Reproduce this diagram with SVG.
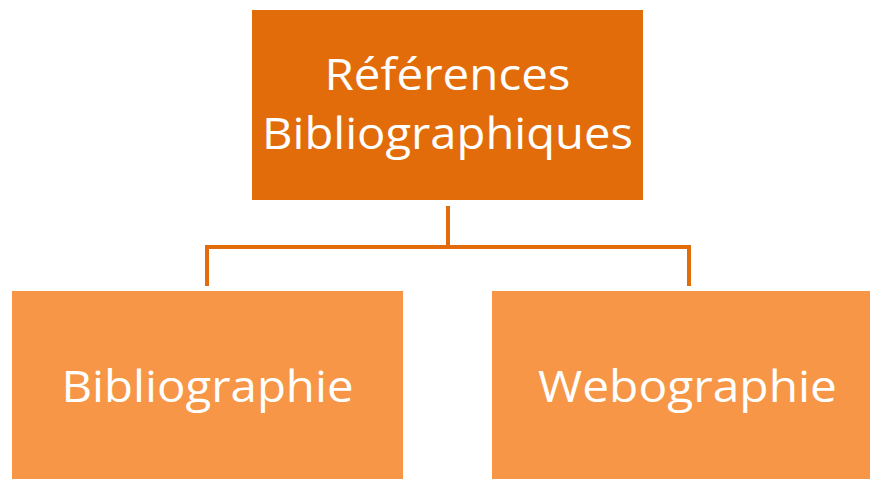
<svg xmlns="http://www.w3.org/2000/svg" width="870" height="479" viewBox="0 0 870 479">
<style>
.top{fill:#E36C0A}
.sub{fill:#F79646}
.lbl{font-family:"Open Sans","Noto Sans",sans-serif;fill:#FFFFFF;font-size:44px;text-anchor:middle}
.conn{fill:none;stroke:#E36C0A;stroke-width:4}
</style>
<rect width="870" height="479" fill="#FFFFFF"/>
<g id="connectors">
<path class="conn" d="M448,206 V247 M207,247 H689 M207,245 V286 M689,245 V286"/>
</g>
<g id="node-references">
<rect class="top" x="252" y="10" width="391" height="190"/>
<text class="lbl" x="447.5" y="90" textLength="246" lengthAdjust="spacingAndGlyphs">Références</text>
<text class="lbl" x="447.5" y="149" textLength="371" lengthAdjust="spacingAndGlyphs">Bibliographiques</text>
</g>
<g id="node-bibliographie">
<rect class="sub" x="12" y="291" width="391" height="190"/>
<text class="lbl" x="207.5" y="402" textLength="292" lengthAdjust="spacingAndGlyphs">Bibliographie</text>
</g>
<g id="node-webographie">
<rect class="sub" x="492" y="291" width="391" height="190"/>
<text class="lbl" x="687.5" y="402" textLength="299" lengthAdjust="spacingAndGlyphs">Webographie</text>
</g>
</svg>
